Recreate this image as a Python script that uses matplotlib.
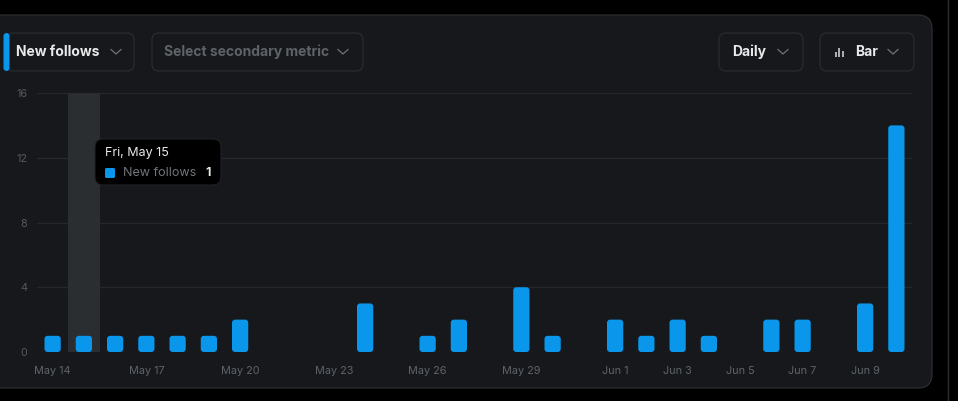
import matplotlib.pyplot as plt
from matplotlib.patches import FancyBboxPatch

plt.rcParams['font.family'] = ['Inter', 'DejaVu Sans']

# one bar per day, May 14 .. Jun 10
days = [f'May {d}' for d in range(14, 32)] + [f'Jun {d}' for d in range(1, 11)]
follows = [1, 1, 1, 1, 1, 1, 2, 0, 0, 0, 3, 0, 1, 2, 0, 4, 1, 0, 2, 1, 2, 1, 0, 2, 2, 0, 3, 14]
tick_days = ['May 14', 'May 17', 'May 20', 'May 23', 'May 26', 'May 29',
             'Jun 1', 'Jun 3', 'Jun 5', 'Jun 7', 'Jun 9']
y_ticks = [0, 4, 8, 12, 16]
hover_day = 'May 15'
hover_title = 'Fri, May 15'
metric = 'New follows'

blue = '#0a96ea'
card = '#16181c'
border = '#2f3336'

fig = plt.figure(figsize=(9.58, 4.01), dpi=100, facecolor='black')

# background layer in pixel coords
bg = fig.add_axes([0, 0, 1, 1])
bg.set_xlim(0, 958)
bg.set_ylim(401, 0)
bg.axis('off')
bg.add_patch(FancyBboxPatch((-20, 15), 952, 373, boxstyle='round,pad=0,rounding_size=14',
                            fc=card, ec=border, lw=0.8))
bg.plot([948.5, 948.5], [0, 401], color='#2a2d31', lw=1)


def button(x0, x1, label, color, tx, chev):
    bg.add_patch(FancyBboxPatch((x0, 33), x1 - x0, 38, boxstyle='round,pad=0,rounding_size=7',
                                fc='none', ec='#26292d', lw=1))
    bg.text(tx, 52, label, color=color, fontsize=10, fontweight='bold', va='center', ha='left')
    bg.plot([chev - 5, chev, chev + 5], [49.5, 54, 49.5], color='#6e7378', lw=0.9)


button(6, 134, metric, '#e7e9ea', 16, 116)
bg.add_patch(FancyBboxPatch((3.5, 33), 6, 38, boxstyle='round,pad=0,rounding_size=3',
                            fc=blue, ec='none'))
button(152, 363, 'Select secondary metric', '#5e6368', 164, 343)
button(719, 803, 'Daily', '#e7e9ea', 732, 783)
button(820, 914, 'Bar', '#e7e9ea', 855, 893)
for x, h in [(836, 5), (839.5, 9), (843, 6)]:
    bg.plot([x, x], [57, 57 - h], color='#c9ccce', lw=1.2, solid_capstyle='butt')

# chart
ax = fig.add_axes([37 / 958, 49 / 401, 875 / 958, 259 / 401])
ax.set_facecolor('none')
ax.set_xlim(-0.5, len(days) - 0.5)
ax.set_ylim(0, 16)
for s in ax.spines.values():
    s.set_visible(False)
ax.set_yticks(y_ticks)
ax.grid(axis='y', color='#24272b', lw=1)
ax.set_axisbelow(True)
ax.set_xticks([days.index(d) for d in tick_days])
ax.set_xticklabels(tick_days)
ax.tick_params(length=0, labelsize=7.8, labelcolor='#5f646a')
ax.tick_params(axis='x', pad=10)
ax.tick_params(axis='y', pad=7, labelcolor='#555a60')

h = days.index(hover_day)
ax.axvspan(h - 0.5, h + 0.5, color='#2a2e31', zorder=0.8, lw=0)

for i, v in enumerate(follows):
    if v > 0:
        ax.add_patch(FancyBboxPatch((i - 0.26, 0), 0.52, v,
                                    boxstyle='round,pad=0,rounding_size=0.1',
                                    mutation_aspect=1.93, fc=blue, ec='none', zorder=2))

# tooltip on top
top = fig.add_axes([0, 0, 1, 1])
top.set_xlim(0, 958)
top.set_ylim(401, 0)
top.axis('off')
top.add_patch(FancyBboxPatch((95, 139), 126, 46, boxstyle='round,pad=0,rounding_size=8',
                             fc='black', ec='#1f2226', lw=0.8))
top.text(105, 153, hover_title, color='#e7e9ea', fontsize=9, va='center')
top.add_patch(FancyBboxPatch((105, 168), 10, 10, boxstyle='round,pad=0,rounding_size=1.5',
                             fc=blue, ec='none'))
top.text(123, 173.5, metric, color='#71767b', fontsize=9, va='center')
top.text(211, 173.5, str(follows[h]), color='#e7e9ea', fontsize=9, fontweight='bold',
         va='center', ha='right')

fig.savefig('out.png', dpi=100, facecolor='black')
